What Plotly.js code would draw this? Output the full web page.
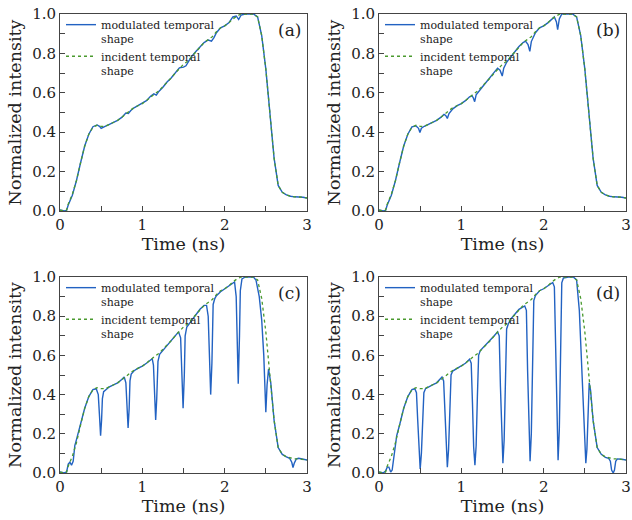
<!DOCTYPE html>
<html>
<head>
<meta charset="utf-8">
<script src="https://cdn.plot.ly/plotly-3.0.1.min.js"></script>
<style>html,body{margin:0;padding:0;background:#fff;}#chart{width:632px;height:520px;}</style>
</head>
<body>
<div id="chart"></div>
<script>
// ---------- DATA ----------
var panelLabels = ["(a)", "(b)", "(c)", "(d)"];
var seriesNames = ["modulated temporal<br>shape", "incident temporal<br>shape"];
var xTickVals = [0, 1, 2, 3];

// incident temporal shape (same in every panel)
var tInc = [0,0.05,0.08,0.10,0.15,0.20,0.25,0.30,0.35,0.40,0.45,0.50,0.55,0.60,0.65,0.70,0.75,0.80,0.85,0.90,0.95,1.00,1.05,1.10,1.15,1.20,1.25,1.30,1.35,1.40,1.45,1.50,1.55,1.60,1.65,1.70,1.75,1.80,1.85,1.90,1.95,2.00,2.05,2.10,2.15,2.20,2.25,2.30,2.35,2.40,2.45,2.50,2.55,2.60,2.65,2.70,2.75,2.80,2.85,2.90,2.95,3.00];
var yInc = [0.005,0.0,0.005,0.035,0.085,0.155,0.245,0.33,0.39,0.425,0.435,0.43,0.43,0.44,0.45,0.46,0.475,0.495,0.51,0.525,0.535,0.545,0.56,0.58,0.595,0.61,0.63,0.655,0.675,0.70,0.725,0.745,0.76,0.785,0.81,0.835,0.855,0.87,0.885,0.91,0.93,0.94,0.955,0.975,0.99,1.0,1.0,1.0,1.0,0.985,0.89,0.72,0.49,0.27,0.13,0.095,0.082,0.075,0.072,0.072,0.07,0.066];

// (a) modulated
var tA = [0,0.05,0.08,0.10,0.15,0.20,0.25,0.30,0.35,0.40,0.45,0.48,0.50,0.53,0.56,0.60,0.65,0.70,0.75,0.80,0.83,0.86,0.90,0.95,1.00,1.05,1.10,1.14,1.17,1.20,1.25,1.30,1.35,1.40,1.45,1.50,1.53,1.56,1.60,1.65,1.70,1.75,1.80,1.84,1.87,1.90,1.95,2.00,2.05,2.10,2.14,2.17,2.20,2.25,2.30,2.35,2.40,2.45,2.50,2.55,2.60,2.65,2.70,2.75,2.80,2.85,2.90,2.95,3.00];
var yA = [0.005,0.0,0.003,0.03,0.08,0.155,0.245,0.33,0.39,0.428,0.437,0.43,0.42,0.428,0.432,0.44,0.45,0.46,0.475,0.497,0.495,0.51,0.524,0.535,0.545,0.56,0.582,0.595,0.588,0.607,0.628,0.655,0.675,0.70,0.727,0.73,0.737,0.758,0.785,0.81,0.835,0.855,0.868,0.862,0.88,0.905,0.93,0.94,0.955,0.985,0.99,0.972,0.995,1.0,1.0,1.0,0.985,0.89,0.72,0.49,0.27,0.13,0.095,0.082,0.075,0.072,0.072,0.07,0.066];

// (b) modulated
var tB = [0,0.05,0.08,0.10,0.15,0.20,0.25,0.30,0.35,0.40,0.45,0.48,0.497,0.515,0.55,0.60,0.65,0.70,0.75,0.79,0.81,0.83,0.85,0.90,0.95,1.00,1.05,1.10,1.13,1.145,1.162,1.18,1.25,1.30,1.35,1.40,1.44,1.47,1.497,1.515,1.55,1.60,1.65,1.70,1.75,1.78,1.81,1.832,1.85,1.90,1.95,2.00,2.05,2.10,2.13,2.155,2.17,2.19,2.22,2.30,2.35,2.40,2.45,2.50,2.55,2.60,2.65,2.70,2.75,2.80,2.85,2.90,2.95,3.00];
var yB = [0.005,0.0,0.003,0.03,0.08,0.155,0.245,0.33,0.39,0.427,0.432,0.42,0.398,0.42,0.43,0.44,0.45,0.46,0.475,0.49,0.485,0.47,0.495,0.52,0.535,0.545,0.56,0.58,0.585,0.575,0.555,0.59,0.627,0.652,0.675,0.70,0.725,0.715,0.685,0.725,0.755,0.782,0.81,0.835,0.855,0.862,0.845,0.81,0.86,0.905,0.93,0.94,0.955,0.975,0.985,0.96,0.92,0.975,1.0,1.0,1.0,0.985,0.89,0.72,0.49,0.27,0.13,0.095,0.082,0.075,0.072,0.072,0.07,0.066];

// (c) modulated
var tC = [0,0.05,0.08,0.10,0.12,0.14,0.16,0.18,0.20,0.25,0.30,0.35,0.40,0.44,0.465,0.48,0.493,0.505,0.515,0.53,0.56,0.60,0.65,0.70,0.75,0.78,0.80,0.815,0.827,0.84,0.85,0.865,0.90,0.95,1.00,1.05,1.10,1.12,1.135,1.15,1.162,1.175,1.19,1.21,1.25,1.30,1.35,1.40,1.44,1.465,1.48,1.495,1.51,1.52,1.54,1.60,1.65,1.70,1.75,1.78,1.80,1.815,1.83,1.845,1.86,1.88,1.90,1.95,2.00,2.05,2.10,2.12,2.14,2.15,2.165,2.18,2.19,2.21,2.25,2.35,2.38,2.42,2.45,2.475,2.49,2.50,2.515,2.533,2.56,2.58,2.60,2.65,2.70,2.75,2.79,2.815,2.83,2.845,2.87,2.90,2.95,3.00];
var yC = [0.005,0.0,0.005,0.045,0.055,0.04,0.06,0.14,0.17,0.245,0.33,0.39,0.425,0.43,0.40,0.29,0.19,0.27,0.38,0.415,0.425,0.44,0.45,0.46,0.477,0.49,0.46,0.33,0.23,0.33,0.47,0.505,0.522,0.535,0.545,0.56,0.578,0.583,0.55,0.37,0.27,0.38,0.57,0.605,0.625,0.655,0.675,0.70,0.72,0.69,0.48,0.33,0.50,0.70,0.745,0.78,0.81,0.835,0.855,0.855,0.80,0.55,0.40,0.56,0.86,0.89,0.905,0.925,0.94,0.955,0.972,0.975,0.90,0.65,0.455,0.70,0.93,0.99,1.0,1.0,0.985,0.90,0.78,0.60,0.42,0.31,0.45,0.53,0.46,0.37,0.27,0.13,0.095,0.082,0.075,0.055,0.028,0.05,0.072,0.075,0.07,0.066];

// (d) modulated
var tD = [0,0.05,0.08,0.10,0.12,0.142,0.16,0.18,0.20,0.215,0.25,0.30,0.35,0.40,0.435,0.455,0.47,0.485,0.50,0.515,0.53,0.545,0.565,0.60,0.65,0.70,0.765,0.785,0.80,0.815,0.83,0.845,0.86,0.875,0.895,0.95,1.00,1.05,1.10,1.12,1.135,1.15,1.165,1.18,1.195,1.21,1.23,1.30,1.35,1.40,1.44,1.46,1.475,1.49,1.505,1.52,1.535,1.55,1.57,1.60,1.65,1.70,1.77,1.79,1.805,1.82,1.835,1.85,1.865,1.88,1.90,1.95,2.00,2.05,2.11,2.13,2.145,2.16,2.175,2.19,2.205,2.22,2.24,2.30,2.36,2.40,2.433,2.46,2.486,2.50,2.512,2.525,2.54,2.553,2.57,2.60,2.65,2.70,2.75,2.79,2.81,2.825,2.845,2.86,2.875,2.895,2.95,3.00];
var yD = [0.005,0.0,0.01,0.03,0.03,0.005,0.015,0.07,0.15,0.19,0.245,0.33,0.39,0.425,0.43,0.41,0.27,0.10,0.02,0.10,0.28,0.41,0.43,0.44,0.45,0.46,0.49,0.47,0.30,0.11,0.03,0.12,0.32,0.50,0.52,0.535,0.545,0.56,0.58,0.56,0.36,0.13,0.04,0.14,0.39,0.60,0.625,0.655,0.675,0.70,0.72,0.70,0.44,0.16,0.05,0.17,0.47,0.735,0.76,0.785,0.81,0.835,0.852,0.83,0.52,0.19,0.06,0.20,0.56,0.88,0.905,0.93,0.94,0.955,0.972,0.95,0.59,0.21,0.065,0.22,0.62,0.97,0.995,1.0,1.0,0.985,0.83,0.58,0.32,0.14,0.05,0.12,0.33,0.46,0.42,0.27,0.13,0.095,0.08,0.075,0.06,0.015,0.0,0.015,0.06,0.072,0.07,0.066];

// ---------- CHART ----------
var modT = [tA, tB, tC, tD];
var modY = [yA, yB, yC, yD];
var FONT = "DejaVu Serif";
var W = 632, H = 520;
var M = {l: 60, r: 1, t: 14, b: 47};
var PW = W - M.l - M.r, PH = H - M.t - M.b;
function fx(px) { return (px - M.l) / PW; }
function fy(py) { return (H - M.b - py) / PH; }
var colX = [[60, 307], [379, 626]];
var rowY = [[14, 211], [277, 473]];

var traces = [];
var layout = {
  width: W, height: H,
  margin: M,
  paper_bgcolor: "#fff", plot_bgcolor: "#fff",
  font: {family: FONT, color: "#222"},
  showlegend: true,
  annotations: []
};

for (var i = 0; i < 4; i++) {
  var n = i + 1;
  var xs = n === 1 ? "" : String(n);
  var col = colX[i % 2], row = rowY[Math.floor(i / 2)];
  var legName = n === 1 ? "legend" : "legend" + n;
  traces.push({
    x: modT[i], y: modY[i], type: "scatter", mode: "lines",
    name: seriesNames[0], xaxis: "x" + xs, yaxis: "y" + xs, legend: legName,
    line: {color: "#2262c2", width: 1.4}
  });
  traces.push({
    x: tInc, y: yInc, type: "scatter", mode: "lines",
    name: seriesNames[1], xaxis: "x" + xs, yaxis: "y" + xs, legend: legName,
    line: {color: "#4a9a2e", width: 1.3, dash: "dot"}
  });
  layout["xaxis" + xs] = {
    domain: [fx(col[0]), fx(col[1])], anchor: "y" + xs,
    range: [0, 3], tickvals: xTickVals, ticks: "inside", ticklen: 5, tickcolor: "#444",
    minor: {dtick: 0.5, ticks: "inside", ticklen: 5, tickcolor: "#444"},
    showline: true, mirror: true, linecolor: "#444", linewidth: 1,
    showgrid: false, zeroline: false, ticklabeloverflow: "allow",
    tickfont: {family: FONT, size: 15, color: "#222"},
    title: {text: "Time (ns)", font: {family: FONT, size: 17.5, color: "#222"}, standoff: 1}
  };
  layout["yaxis" + xs] = {
    domain: [fy(row[1]), fy(row[0])], anchor: "x" + xs,
    range: [0, 1], dtick: 0.2, tickformat: ".1f", ticks: "inside", ticklen: 5, tickcolor: "#444",
    minor: {dtick: 0.1, ticks: "inside", ticklen: 5, tickcolor: "#444"},
    showline: true, mirror: true, linecolor: "#444", linewidth: 1,
    showgrid: false, zeroline: false,
    tickfont: {family: FONT, size: 15, color: "#222"},
    title: {text: "Normalized intensity", font: {family: FONT, size: 17.5, color: "#222"}, standoff: 6}
  };
  layout[legName] = {
    x: fx(col[0] + 1), y: fy(row[0] - 3), xanchor: "left", yanchor: "top",
    bgcolor: "rgba(0,0,0,0)", borderwidth: 0, valign: "top",
    font: {family: FONT, size: 11, color: "#222"},
    tracegroupgap: 0, itemwidth: 30
  };
  layout.annotations.push({
    xref: "x" + xs + " domain", yref: "y" + xs + " domain", x: 1, y: 1,
    xanchor: "right", yanchor: "top", xshift: -4, yshift: -4, showarrow: false,
    text: panelLabels[i], font: {family: FONT, size: 17, color: "#222"}
  });
}

Plotly.newPlot("chart", traces, layout, {displayModeBar: false, staticPlot: true});
</script>
</body>
</html>
